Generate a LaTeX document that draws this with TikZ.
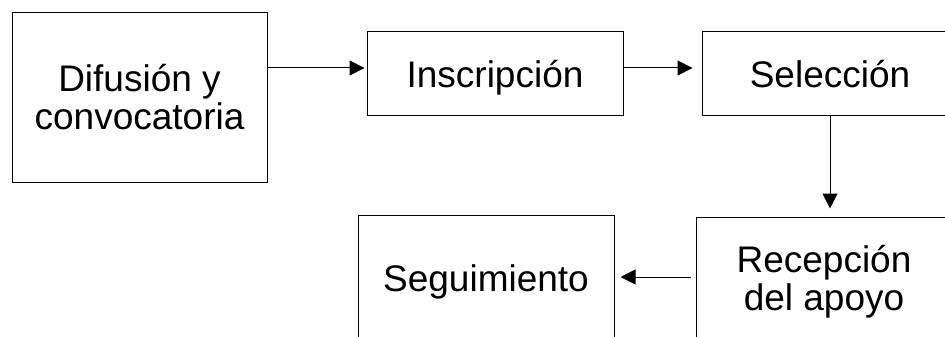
\documentclass[tikz,border=0pt]{standalone}
\usepackage{fontspec}
\setmainfont{Liberation Sans}
\usetikzlibrary{positioning,arrows.meta,calc}

\tikzset{
  stage/.style={draw, line width=1pt, align=center, inner sep=0pt,
    font=\fontsize{37}{38}\selectfont},
  oneline/.style={stage, text height=36pt, text depth=8pt},
  flow/.style={-{Triangle[length=15pt,width=15pt]}, line width=1pt}
}

\begin{document}
\begin{tikzpicture}[x=1pt,y=1pt]
  \clip (0,0) rectangle (945,-337);
  \useasboundingbox (0,0) rectangle (945,-337);

  % Upper row
  \node[stage, minimum width=255pt, minimum height=169pt] (dif) at (139.5,-97.5) {Difusión y\\convocatoria};
  \node[oneline, minimum width=256pt, minimum height=83pt] (ins) at (495,-73.5) {Inscripción};
  \node[oneline, minimum width=256pt, minimum height=83pt] (sel) at (830,-73.5) {Selección};

  % Lower row
  \node[stage, minimum width=256pt, minimum height=130pt] (rec) at (824,-282) {Recepción\\del apoyo};
  \node[oneline, minimum width=256pt, minimum height=124pt] (seg) at (486,-277) {Seguimiento};

  % Connectors
  \draw[flow, shorten >=2pt, transform canvas={yshift=5.5pt}] (dif.east |- ins.west) -- (ins.west);
  \draw[flow, shorten >=9pt, transform canvas={yshift=5.5pt}] (ins.east) -- (sel.west);
  \draw[flow, shorten >=8pt] (sel.south) -- (sel.south |- rec.north);
  \draw[flow, shorten <=5pt, shorten >=6pt] (rec.west |- seg.east) -- (seg.east);
\end{tikzpicture}
\end{document}
